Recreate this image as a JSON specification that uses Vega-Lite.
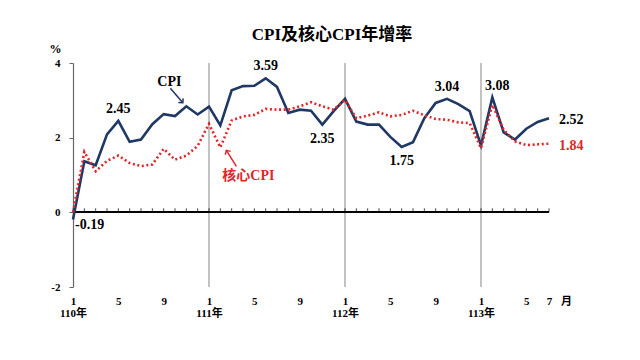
{
  "$schema": "https://vega.github.io/schema/vega-lite/v6.json",
  "width": 476,
  "height": 224,
  "autosize": "none",
  "padding": {"left": 73, "top": 63, "right": 91, "bottom": 73},
  "background": "white",
  "title": {
    "text": "CPI及核心CPI年增率",
    "font": "Liberation Serif, Noto Sans CJK TC",
    "fontSize": 17,
    "fontWeight": "bold",
    "color": "#000000",
    "anchor": "middle",
    "dx": 21,
    "baseline": "bottom",
    "offset": -19
  },
  "config": {
    "view": {"stroke": null},
    "font": "Liberation Serif, Noto Sans CJK TC",
    "axis": {"grid": false},
    "text": {"font": "Liberation Serif, Noto Sans CJK TC", "fontWeight": "bold", "fontSize": 14, "baseline": "middle"}
  },
  "data": {
    "values": [
      {"i": 0, "cpi": -0.19, "core": 0.0},
      {"i": 1, "cpi": 1.37, "core": 1.62},
      {"i": 2, "cpi": 1.26, "core": 1.10},
      {"i": 3, "cpi": 2.09, "core": 1.38},
      {"i": 4, "cpi": 2.45, "core": 1.52},
      {"i": 5, "cpi": 1.89, "core": 1.32},
      {"i": 6, "cpi": 1.95, "core": 1.24},
      {"i": 7, "cpi": 2.36, "core": 1.28},
      {"i": 8, "cpi": 2.63, "core": 1.70},
      {"i": 9, "cpi": 2.58, "core": 1.41},
      {"i": 10, "cpi": 2.84, "core": 1.52},
      {"i": 11, "cpi": 2.62, "core": 1.78},
      {"i": 12, "cpi": 2.83, "core": 2.37},
      {"i": 13, "cpi": 2.33, "core": 1.74},
      {"i": 14, "cpi": 3.27, "core": 2.46},
      {"i": 15, "cpi": 3.38, "core": 2.57},
      {"i": 16, "cpi": 3.39, "core": 2.61},
      {"i": 17, "cpi": 3.59, "core": 2.77},
      {"i": 18, "cpi": 3.36, "core": 2.75},
      {"i": 19, "cpi": 2.66, "core": 2.75},
      {"i": 20, "cpi": 2.75, "core": 2.84},
      {"i": 21, "cpi": 2.72, "core": 2.95},
      {"i": 22, "cpi": 2.35, "core": 2.84},
      {"i": 23, "cpi": 2.71, "core": 2.75},
      {"i": 24, "cpi": 3.04, "core": 3.01},
      {"i": 25, "cpi": 2.43, "core": 2.52},
      {"i": 26, "cpi": 2.35, "core": 2.59},
      {"i": 27, "cpi": 2.35, "core": 2.68},
      {"i": 28, "cpi": 2.02, "core": 2.57},
      {"i": 29, "cpi": 1.75, "core": 2.61},
      {"i": 30, "cpi": 1.88, "core": 2.72},
      {"i": 31, "cpi": 2.52, "core": 2.60},
      {"i": 32, "cpi": 2.93, "core": 2.50},
      {"i": 33, "cpi": 3.04, "core": 2.48},
      {"i": 34, "cpi": 2.90, "core": 2.41},
      {"i": 35, "cpi": 2.71, "core": 2.39},
      {"i": 36, "cpi": 1.79, "core": 1.72},
      {"i": 37, "cpi": 3.08, "core": 2.88},
      {"i": 38, "cpi": 2.14, "core": 2.21},
      {"i": 39, "cpi": 1.95, "core": 1.90},
      {"i": 40, "cpi": 2.24, "core": 1.80},
      {"i": 41, "cpi": 2.42, "core": 1.82},
      {"i": 42, "cpi": 2.52, "core": 1.84}
    ]
  },
  "layer": [
    {
      "transform": [{"filter": "datum.i > 0 && datum.i % 12 == 0"}],
      "mark": {"type": "rule", "color": "#9a9a9a", "strokeWidth": 1.2},
      "encoding": {
        "x": {"field": "i", "type": "quantitative", "scale": {"domain": [0, 42], "nice": false, "zero": false}}
      }
    },
    {
      "mark": {"type": "rule", "color": "#000000", "strokeWidth": 1.5},
      "encoding": {
        "y": {"datum": 0, "type": "quantitative"}
      }
    },
    {
      "mark": {"type": "tick", "orient": "vertical", "color": "#000000", "size": 4, "thickness": 1, "yOffset": -2},
      "encoding": {
        "x": {"field": "i", "type": "quantitative"},
        "y": {"datum": 0, "type": "quantitative"}
      }
    },
    {
      "mark": {"type": "line", "color": "#1f3864", "strokeWidth": 2.6},
      "encoding": {
        "x": {
          "field": "i", "type": "quantitative",
          "scale": {"domain": [0, 42], "nice": false, "zero": false},
          "axis": {
            "orient": "bottom",
            "values": [0, 4, 8, 12, 16, 20, 24, 28, 32, 36, 40, 42],
            "labelExpr": "datum.value % 12 == 0 ? [format(datum.value % 12 + 1, 'd'), format(110 + datum.value / 12, 'd') + '年'] : format(datum.value % 12 + 1, 'd')",
            "labelFont": "Liberation Serif, Noto Sans CJK TC",
            "labelFontWeight": "bold",
            "labelFontSize": 11,
            "labelColor": "#000000",
            "labelLineHeight": 12,
            "labelBaseline": "top",
            "labelPadding": 8,
            "labelOverlap": false,
            "labelFlush": false,
            "domain": false,
            "ticks": false,
            "grid": false,
            "title": "月",
            "titleFont": "Noto Sans CJK TC",
            "titleFontWeight": "bold",
            "titleFontSize": 11,
            "titleColor": "#000000",
            "titleX": 493,
            "titleY": 14,
            "titleAlign": "center",
            "titleBaseline": "middle"
          }
        },
        "y": {
          "field": "cpi", "type": "quantitative",
          "scale": {"domain": [-2, 4], "nice": false, "zero": false},
          "axis": {
            "values": [-2, 0, 2, 4],
            "labelExpr": "(datum.value < 0 ? '-' : '') + abs(datum.value)",
            "grid": false,
            "domainColor": "#666666",
            "domainWidth": 1.2,
            "tickColor": "#666666",
            "tickSize": 4,
            "labelPadding": 9,
            "labelFont": "Liberation Serif",
            "labelFontWeight": "bold",
            "labelFontSize": 11,
            "labelColor": "#000000",
            "title": "%",
            "titleFont": "Liberation Serif",
            "titleFontWeight": "bold",
            "titleFontSize": 12,
            "titleColor": "#000000",
            "titleAngle": 0,
            "titleX": -18,
            "titleY": -15,
            "titleAlign": "center",
            "titleBaseline": "middle"
          }
        }
      }
    },
    {
      "mark": {"type": "line", "color": "#e0262a", "strokeWidth": 2.6, "strokeDash": [2, 2.6]},
      "encoding": {
        "x": {"field": "i", "type": "quantitative"},
        "y": {"field": "core", "type": "quantitative"}
      }
    },
    {
      "transform": [{"filter": "datum.i == 4 || datum.i == 17 || datum.i == 33"}],
      "mark": {"type": "text", "dy": -12, "color": "#000000"},
      "encoding": {
        "x": {"field": "i", "type": "quantitative"},
        "y": {"field": "cpi", "type": "quantitative"},
        "text": {"field": "cpi", "type": "nominal"}
      }
    },
    {
      "transform": [{"filter": "datum.i == 37"}],
      "mark": {"type": "text", "dy": -11, "dx": 5, "color": "#000000"},
      "encoding": {
        "x": {"field": "i", "type": "quantitative"},
        "y": {"field": "cpi", "type": "quantitative"},
        "text": {"field": "cpi", "type": "nominal"}
      }
    },
    {
      "transform": [{"filter": "datum.i == 22 || datum.i == 29"}],
      "mark": {"type": "text", "dy": 14, "color": "#000000"},
      "encoding": {
        "x": {"field": "i", "type": "quantitative"},
        "y": {"field": "cpi", "type": "quantitative"},
        "text": {"field": "cpi", "type": "nominal"}
      }
    },
    {
      "transform": [{"filter": "datum.i == 0"}],
      "mark": {"type": "text", "align": "left", "dx": 2, "dy": 6, "color": "#000000"},
      "encoding": {
        "x": {"field": "i", "type": "quantitative"},
        "y": {"field": "cpi", "type": "quantitative"},
        "text": {"field": "cpi", "type": "nominal"}
      }
    },
    {
      "transform": [{"filter": "datum.i == 42"}],
      "mark": {"type": "text", "align": "left", "dx": 10, "dy": 2, "color": "#000000"},
      "encoding": {
        "x": {"field": "i", "type": "quantitative"},
        "y": {"field": "cpi", "type": "quantitative"},
        "text": {"field": "cpi", "type": "nominal"}
      }
    },
    {
      "transform": [{"filter": "datum.i == 42"}],
      "mark": {"type": "text", "align": "left", "dx": 10, "dy": 2, "color": "#e0262a"},
      "encoding": {
        "x": {"field": "i", "type": "quantitative"},
        "y": {"field": "core", "type": "quantitative"},
        "text": {"field": "core", "type": "nominal"}
      }
    },
    {
      "transform": [{"filter": "datum.i == 10"}],
      "mark": {"type": "text", "dx": -17, "dy": -24, "color": "#000000"},
      "encoding": {
        "x": {"field": "i", "type": "quantitative"},
        "y": {"field": "cpi", "type": "quantitative"},
        "text": {"value": "CPI"}
      }
    },
    {
      "transform": [{"filter": "datum.i == 10"}],
      "mark": {"type": "rule", "color": "#1f3864", "strokeWidth": 1.5, "xOffset": -16, "yOffset": -18, "x2Offset": -3.5, "y2Offset": -3.5},
      "encoding": {
        "x": {"field": "i", "type": "quantitative"},
        "x2": {"field": "i"},
        "y": {"field": "cpi", "type": "quantitative"},
        "y2": {"field": "cpi"}
      }
    },
    {
      "transform": [{"filter": "datum.i == 10"}],
      "mark": {"type": "point", "shape": "M -1 1 L 0 0 L 1 1", "filled": false, "color": "#1f3864", "strokeWidth": 1.5, "size": 40, "angle": 139, "xOffset": -3.5, "yOffset": -3.5, "opacity": 1},
      "encoding": {
        "x": {"field": "i", "type": "quantitative"},
        "y": {"field": "cpi", "type": "quantitative"}
      }
    },
    {
      "transform": [{"filter": "datum.i == 13"}],
      "mark": {"type": "text", "dx": 28, "dy": 29, "color": "#e0262a"},
      "encoding": {
        "x": {"field": "i", "type": "quantitative"},
        "y": {"field": "core", "type": "quantitative"},
        "text": {"value": "核心CPI"}
      }
    },
    {
      "transform": [{"filter": "datum.i == 13"}],
      "mark": {"type": "rule", "color": "#e0262a", "strokeWidth": 1.5, "xOffset": 16, "yOffset": 19, "x2Offset": 6, "y2Offset": 3},
      "encoding": {
        "x": {"field": "i", "type": "quantitative"},
        "x2": {"field": "i"},
        "y": {"field": "core", "type": "quantitative"},
        "y2": {"field": "core"}
      }
    },
    {
      "transform": [{"filter": "datum.i == 13"}],
      "mark": {"type": "point", "shape": "M -1 1 L 0 0 L 1 1", "filled": false, "color": "#e0262a", "strokeWidth": 1.5, "size": 40, "angle": 328, "xOffset": 6, "yOffset": 3, "opacity": 1},
      "encoding": {
        "x": {"field": "i", "type": "quantitative"},
        "y": {"field": "core", "type": "quantitative"}
      }
    }
  ]
}
